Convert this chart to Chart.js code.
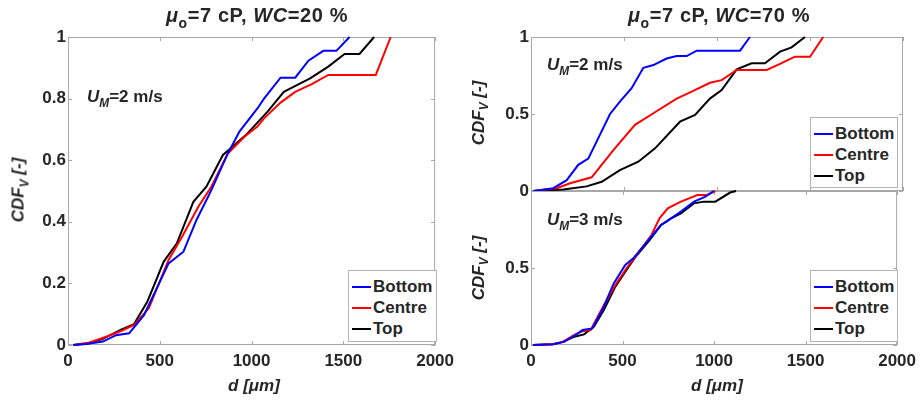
<!DOCTYPE html>
<html>
<head>
<meta charset="utf-8">
<script src="https://cdn.jsdelivr.net/npm/chart.js@4.4.1/dist/chart.umd.min.js"></script>
<style>
    body { margin: 0; background: #fff; }
    #wrap {
        position: relative; width: 922px; height: 401px; overflow: hidden;
        font-family: "Liberation Sans", Arial, sans-serif; font-weight: bold; color: #262626;
    }
    canvas { position: absolute; top: 0; }
    .txt { position: absolute; white-space: nowrap; font-size: 17px; line-height: 1; }
    .txt sub { font-size: 70%; vertical-align: -0.4em; line-height: 0; }
    .title { font-size: 20px; letter-spacing: 0.6px; }
    .center { transform: translate(-50%, -50%); }
    .rot { transform: translate(-50%, -50%) rotate(-90deg); }
    .legend { position: absolute; background: #fff; border: 1px solid #b4b4b4; box-sizing: border-box; padding-top: 5px; }
    .legend .row { height: 21px; display: flex; align-items: center; font-size: 17px; white-space: nowrap; }
    .legend .sw { flex: none; width: 19px; height: 2px; margin: 0 2px 0 3px; }
</style>
</head>
<body>
<div id="wrap">
    <canvas id="ChartLeft" width="460" height="401" style="left:0"></canvas>
    <canvas id="ChartRightTop" width="462" height="401" style="left:460px"></canvas>
    <canvas id="ChartRightBottom" width="462" height="401" style="left:460px"></canvas>

    <div class="txt title center" style="left:257px; top:15px"><i>μ</i><sub>o</sub>=7 cP, <i>WC</i>=20 %</div>
    <div class="txt title center" style="left:719px; top:15px"><i>μ</i><sub>o</sub>=7 cP, <i>WC</i>=70 %</div>

    <div class="txt rot" style="left:18px; top:190px"><i>CDF<sub>V</sub> [-]</i></div>
    <div class="txt rot" style="left:478px; top:113px"><i>CDF<sub>V</sub> [-]</i></div>
    <div class="txt rot" style="left:478px; top:268px"><i>CDF<sub>V</sub> [-]</i></div>

    <div class="txt center" style="left:254px; top:385px"><i>d [μm]</i></div>
    <div class="txt center" style="left:717px; top:385px"><i>d [μm]</i></div>

    <div class="txt" style="left:87px; top:88px"><i>U<sub>M</sub></i>=2 m/s</div>
    <div class="txt" style="left:547px; top:56px"><i>U<sub>M</sub></i>=2 m/s</div>
    <div class="txt" style="left:547px; top:211px"><i>U<sub>M</sub></i>=3 m/s</div>

    <div class="legend" id="LegendLeft" style="left:348px; top:270px; width:89px; height:72px"></div>
    <div class="legend" id="LegendRightTop" style="left:810px; top:117px; width:88px; height:71px"></div>
    <div class="legend" id="LegendRightBottom" style="left:810px; top:270px; width:88px; height:72px"></div>
</div>

<script>
// series
const seriesNames = ['Bottom', 'Centre', 'Top'];
const seriesColors = ['#0000ff', '#ff0000', '#000000'];

// tick labels
const xTicks = [0, 500, 1000, 1500, 2000];
const leftYTicks = [0, 0.2, 0.4, 0.6, 0.8, 1];
const rightTopYTicks = [0, 0.5, 1];
const rightBottomYTicks = [0, 0.5];

// WC = 20 %, UM = 2 m/s
const wc20BottomD = [29, 100, 190, 262, 333, 414, 548, 629, 700, 781, 871, 934, 1032, 1068, 1158, 1238, 1310, 1391, 1462, 1534];
const wc20BottomCdf = [0, 0.003, 0.011, 0.032, 0.038, 0.097, 0.265, 0.303, 0.406, 0.503, 0.622, 0.693, 0.768, 0.80, 0.868, 0.868, 0.923, 0.955, 0.955, 1.0];
const wc20CentreD = [29, 118, 208, 280, 360, 441, 548, 620, 710, 781, 871, 961, 1032, 1068, 1158, 1238, 1328, 1418, 1677, 1758];
const wc20CentreCdf = [0, 0.008, 0.027, 0.043, 0.065, 0.12, 0.276, 0.35, 0.449, 0.514, 0.622, 0.676, 0.709, 0.736, 0.787, 0.822, 0.847, 0.877, 0.877, 1.0];
const wc20TopD = [29, 109, 190, 289, 360, 432, 521, 593, 683, 754, 844, 889, 978, 1086, 1176, 1247, 1319, 1418, 1507, 1588, 1668];
const wc20TopCdf = [0, 0.005, 0.02, 0.05, 0.068, 0.14, 0.27, 0.33, 0.465, 0.514, 0.617, 0.64, 0.687, 0.757, 0.822, 0.844, 0.866, 0.904, 0.945, 0.945, 1.0];

// WC = 70 %, UM = 2 m/s
const wc70u2BottomD = [12, 120, 192, 254, 308, 425, 478, 541, 604, 658, 729, 783, 837, 891, 1124, 1177];
const wc70u2BottomCdf = [0, 0.018, 0.07, 0.17, 0.21, 0.50, 0.58, 0.667, 0.80, 0.818, 0.86, 0.876, 0.876, 0.911, 0.911, 1.0];
const wc70u2CentreD = [12, 138, 210, 326, 443, 559, 658, 783, 864, 962, 1025, 1106, 1267, 1339, 1419, 1500, 1571];
const wc70u2CentreCdf = [0, 0.018, 0.05, 0.089, 0.266, 0.43, 0.505, 0.60, 0.645, 0.703, 0.72, 0.786, 0.786, 0.825, 0.872, 0.872, 1.0];
const wc70u2TopD = [12, 174, 299, 380, 478, 577, 667, 801, 882, 962, 1025, 1106, 1186, 1258, 1339, 1401, 1473];
const wc70u2TopCdf = [0, 0.01, 0.03, 0.06, 0.136, 0.19, 0.277, 0.45, 0.494, 0.60, 0.656, 0.79, 0.829, 0.829, 0.905, 0.933, 1.0];

// WC = 70 %, UM = 3 m/s
const wc70u3BottomD = [12, 120, 180, 237, 282, 335, 389, 452, 515, 559, 649, 711, 738, 819, 891, 953, 998];
const wc70u3BottomCdf = [0, 0.005, 0.02, 0.06, 0.097, 0.108, 0.227, 0.40, 0.52, 0.563, 0.693, 0.78, 0.80, 0.866, 0.931, 0.963, 1.0];
const wc70u3CentreD = [12, 120, 174, 237, 282, 326, 389, 461, 523, 577, 658, 702, 747, 819, 909, 962, 1007];
const wc70u3CentreCdf = [0, 0.005, 0.02, 0.065, 0.09, 0.097, 0.238, 0.39, 0.50, 0.584, 0.714, 0.823, 0.888, 0.931, 0.974, 0.974, 1.0];
const wc70u3TopD = [12, 120, 174, 237, 290, 344, 398, 461, 515, 568, 649, 711, 765, 819, 891, 944, 1007, 1088, 1120];
const wc70u3TopCdf = [0, 0.005, 0.02, 0.054, 0.069, 0.119, 0.227, 0.379, 0.476, 0.567, 0.682, 0.78, 0.823, 0.855, 0.92, 0.931, 0.931, 0.99, 1.0];

const PAGE_H = 401;
const Y_AXIS_W = 40;
const X_AXIS_H = 30;
const TICK_FONT = {family: '"Liberation Sans", Arial, sans-serif', size: 17, weight: 'bold'};

// box round the plot area with inward ticks, drawn under the lines
const boxPlugin = {
    id: 'matlabBox',
    beforeDatasetsDraw(chart) {
        const {ctx, chartArea: a, scales} = chart;
        ctx.save();
        ctx.strokeStyle = '#a8a8a8';
        ctx.lineWidth = 1;
        ctx.strokeRect(a.left + 0.5, a.top + 0.5, a.right - a.left - 1, a.bottom - a.top - 1);
        ctx.beginPath();
        scales.x.ticks.forEach(t => {
            const px = Math.round(scales.x.getPixelForValue(t.value)) + 0.5;
            ctx.moveTo(px, a.bottom); ctx.lineTo(px, a.bottom - 4);
            ctx.moveTo(px, a.top); ctx.lineTo(px, a.top + 4);
        });
        scales.y.ticks.forEach(t => {
            const py = Math.round(scales.y.getPixelForValue(t.value)) + 0.5;
            ctx.moveTo(a.left, py); ctx.lineTo(a.left + 4, py);
            ctx.moveTo(a.right, py); ctx.lineTo(a.right - 4, py);
        });
        ctx.stroke();
        ctx.restore();
    }
};

function toPoints(xs, ys) {
    return xs.map((x, i) => ({x: x, y: ys[i]}));
}

function buildDatasets(groups) {
    return groups.map((g, i) => ({
        label: seriesNames[i],
        data: toPoints(g[0], g[1]),
        borderColor: seriesColors[i],
        borderWidth: 2,
        pointRadius: 0,
        tension: 0,
        clip: false
    }));
}

// area is the plot box in page pixels, canvasLeft/canvasWidth place the canvas
function makePanel(canvasId, area, canvasLeft, canvasWidth, yTicks, showXLabels, groups) {
    const padding = {
        left: area.left - canvasLeft - Y_AXIS_W,
        right: canvasLeft + canvasWidth - area.right,
        top: area.top,
        bottom: PAGE_H - area.bottom - X_AXIS_H
    };
    new Chart(document.getElementById(canvasId), {
        type: 'line',
        data: {datasets: buildDatasets(groups)},
        options: {
            responsive: false,
            animation: false,
            layout: {padding: padding},
            plugins: {legend: {display: false}, tooltip: {enabled: false}},
            scales: {
                x: {
                    type: 'linear',
                    min: 0,
                    max: 2000,
                    grid: {display: false, drawTicks: false},
                    border: {display: false},
                    afterBuildTicks: s => { s.ticks = xTicks.map(v => ({value: v})); },
                    afterFit: s => { s.height = X_AXIS_H; },
                    ticks: {
                        display: showXLabels,
                        padding: 6,
                        color: '#262626',
                        font: TICK_FONT,
                        callback: v => String(v)
                    }
                },
                y: {
                    type: 'linear',
                    min: 0,
                    max: 1,
                    grid: {display: false, drawTicks: false},
                    border: {display: false},
                    afterBuildTicks: s => { s.ticks = yTicks.map(v => ({value: v})); },
                    afterFit: s => { s.width = Y_AXIS_W; },
                    ticks: {
                        padding: 2,
                        color: '#262626',
                        font: TICK_FONT,
                        callback: v => String(v)
                    }
                }
            }
        },
        plugins: [boxPlugin]
    });
}

function fillLegend(id) {
    const box = document.getElementById(id);
    seriesNames.forEach((name, i) => {
        const row = document.createElement('div');
        row.className = 'row';
        row.innerHTML = '<span class="sw" style="background:' + seriesColors[i] + '"></span>' + name;
        box.appendChild(row);
    });
}

makePanel('ChartLeft', {left: 68, top: 37, right: 440, bottom: 345}, 0, 460, leftYTicks, true, [
    [wc20BottomD, wc20BottomCdf],
    [wc20CentreD, wc20CentreCdf],
    [wc20TopD, wc20TopCdf]
]);

makePanel('ChartRightTop', {left: 531, top: 37, right: 903, bottom: 191}, 460, 462, rightTopYTicks, false, [
    [wc70u2BottomD, wc70u2BottomCdf],
    [wc70u2CentreD, wc70u2CentreCdf],
    [wc70u2TopD, wc70u2TopCdf]
]);

makePanel('ChartRightBottom', {left: 531, top: 191, right: 903, bottom: 345}, 460, 462, rightBottomYTicks, true, [
    [wc70u3BottomD, wc70u3BottomCdf],
    [wc70u3CentreD, wc70u3CentreCdf],
    [wc70u3TopD, wc70u3TopCdf]
]);

fillLegend('LegendLeft');
fillLegend('LegendRightTop');
fillLegend('LegendRightBottom');
</script>
</body>
</html>
